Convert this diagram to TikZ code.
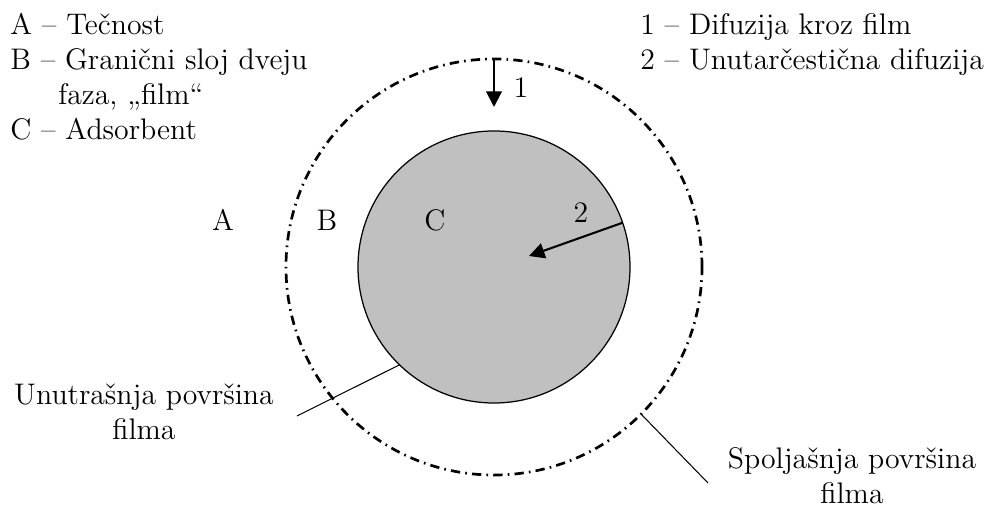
\documentclass[tikz,border=0pt]{standalone}
\usetikzlibrary{arrows.meta}
\definecolor{grainfill}{RGB}{192,192,192}
\begin{document}
\begin{tikzpicture}[x=0.017cm,y=-0.017cm,
    font=\fontsize{14.4pt}{17pt}\selectfont,
    every node/.style={inner sep=0pt},
    txt/.style={anchor=base},
    legend/.style={anchor=base west},
    flow/.style={line width=1pt,-{Triangle[length=7.5pt,width=7.5pt]}},
    leader/.style={line width=0.5pt}]
    \useasboundingbox (0,0) rectangle (989,509);
    % film boundary and adsorbent grain
    \node (film) [circle,draw,line width=1.3pt,outer sep=0pt,
      dash pattern=on 4.5pt off 2.5pt on 0.8pt off 2.5pt,minimum size=7.072cm] at (494,267) {};
    \node (grain) [circle,draw,fill=grainfill,line width=0.6pt,outer sep=0pt,
      minimum size=4.624cm] at (494,267) {};
    \node (zoneA) [txt] at (223,231) {A};
    \node (zoneB) [txt] at (327,231) {B};
    \node (zoneC) [txt] at (435,231) {C};
    % diffusion steps
    \coordinate (tip1) at (494,107);
    \coordinate (tip2) at (529,256);
    \draw[flow] (film.north) -- (tip1);
    \draw[flow] (grain.19) -- (tip2);
    \node (num1) [txt] at (521,98) {1};
    \node (num2) [txt] at (581,223) {2};
    % surfaces
    \node (inner) [txt,align=center] at (144,440) {Unutrašnja površina\\filma};
    \node (outer) [txt,align=center] at (852,504) {Spoljašnja površina\\filma};
    \coordinate (endIn) at (297,416);
    \coordinate (endOut) at (708,483);
    \draw[leader] (grain.226) -- (endIn);
    \draw[leader] (film.-45) -- (endOut);
    % legends
    \node (legA) [legend] at (10,35) {A – Tečnost};
    \node (legB) [legend] at (10,70) {B – Granični sloj dveju};
    \node (legBb) [legend] at (58,105) {faza, „film“};
    \node (legC) [legend] at (10,140) {C – Adsorbent};
    \node (leg1) [legend] at (640,35) {1 – Difuzija kroz film};
    \node (leg2) [legend] at (640,70) {2 – Unutarčestična difuzija};
\end{tikzpicture}
\end{document}
